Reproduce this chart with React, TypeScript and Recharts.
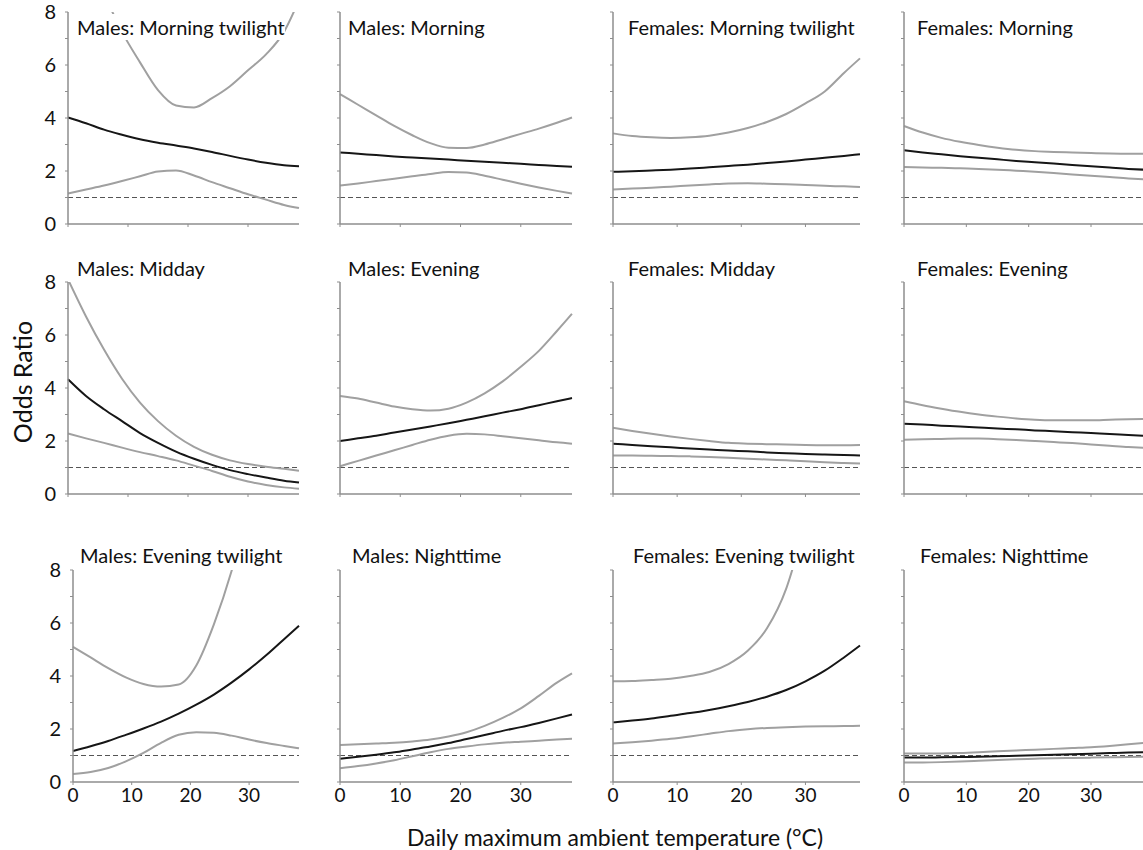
import React from 'react';
import { LineChart, Line, XAxis, YAxis, ReferenceLine } from 'recharts';

// shared x values (daily max temperature, °C) and axis ticks
const temps = [0, 3, 6, 9, 12, 15, 18, 21, 24, 27, 30, 33, 36, 38.5];
const xTicks = [0, 10, 20, 30];
const yTicks = [0, 1, 2, 3, 4, 5, 6, 7, 8];

// Males: Morning twilight
const mMornTwiEst = [4.02, 3.8, 3.56, 3.37, 3.2, 3.07, 2.96, 2.85, 2.72, 2.57, 2.43, 2.31, 2.22, 2.18];
const mMornTwiUpp = [null, null, 8.7, 7.25, 6.1, 5.05, 4.47, 4.4, 4.75, 5.2, 5.8, 6.4, 7.25, 8.45];
const mMornTwiLow = [1.15, 1.3, 1.45, 1.62, 1.8, 1.98, 2.02, 1.83, 1.58, 1.35, 1.12, 0.92, 0.72, 0.6];
// Males: Morning
const mMornEst = [2.7, 2.65, 2.6, 2.55, 2.51, 2.47, 2.43, 2.39, 2.35, 2.31, 2.27, 2.23, 2.19, 2.16];
const mMornUpp = [4.9, 4.5, 4.1, 3.7, 3.35, 3.05, 2.88, 2.87, 3.0, 3.2, 3.4, 3.6, 3.82, 4.02];
const mMornLow = [1.45, 1.53, 1.62, 1.71, 1.8, 1.89, 1.96, 1.94, 1.82, 1.67, 1.52, 1.38, 1.25, 1.15];
// Females: Morning twilight
const fMornTwiEst = [1.97, 1.99, 2.02, 2.05, 2.09, 2.14, 2.19, 2.24, 2.3, 2.36, 2.43, 2.5, 2.57, 2.63];
const fMornTwiUpp = [3.42, 3.32, 3.27, 3.25, 3.27, 3.33, 3.45, 3.62, 3.85, 4.15, 4.55, 5.0, 5.7, 6.25];
const fMornTwiLow = [1.3, 1.34, 1.37, 1.41, 1.45, 1.49, 1.53, 1.54, 1.52, 1.5, 1.47, 1.44, 1.42, 1.4];
// Females: Morning
const fMornEst = [2.78, 2.7, 2.63, 2.56, 2.5, 2.44, 2.38, 2.33, 2.28, 2.23, 2.18, 2.13, 2.08, 2.05];
const fMornUpp = [3.7, 3.45, 3.25, 3.1, 2.98, 2.88, 2.8, 2.75, 2.72, 2.7, 2.68, 2.66, 2.65, 2.65];
const fMornLow = [2.15, 2.13, 2.12, 2.1, 2.08, 2.05, 2.01, 1.97, 1.92, 1.87, 1.82, 1.77, 1.72, 1.69];
// Males: Midday
const mMidEst = [4.33, 3.7, 3.2, 2.75, 2.3, 1.93, 1.6, 1.33, 1.1, 0.9, 0.75, 0.62, 0.5, 0.43];
const mMidUpp = [8.1, 6.7, 5.45, 4.35, 3.45, 2.75, 2.2, 1.78, 1.48, 1.27, 1.13, 1.03, 0.95, 0.88];
const mMidLow = [2.28, 2.1, 1.93, 1.75, 1.58, 1.43, 1.27, 1.07, 0.87, 0.65, 0.47, 0.34, 0.25, 0.2];
// Males: Evening
const mEveEst = [2.0, 2.1, 2.2, 2.32, 2.43, 2.55, 2.67, 2.8, 2.93, 3.07, 3.2, 3.35, 3.5, 3.62];
const mEveUpp = [3.7, 3.6, 3.45, 3.3, 3.2, 3.15, 3.22, 3.45, 3.8, 4.25, 4.8, 5.4, 6.15, 6.8];
const mEveLow = [1.05, 1.25, 1.45, 1.65, 1.85, 2.05, 2.2, 2.27, 2.25, 2.18, 2.1, 2.03, 1.95, 1.9];
// Females: Midday
const fMidEst = [1.9, 1.85, 1.8, 1.76, 1.72, 1.68, 1.64, 1.61, 1.57, 1.54, 1.51, 1.49, 1.47, 1.45];
const fMidUpp = [2.5, 2.38, 2.27, 2.17, 2.08, 2.0, 1.93, 1.9, 1.88, 1.87, 1.85, 1.84, 1.84, 1.85];
const fMidLow = [1.45, 1.45, 1.44, 1.43, 1.42, 1.4, 1.37, 1.33, 1.3, 1.27, 1.24, 1.2, 1.17, 1.15];
// Females: Evening
const fEveEst = [2.65, 2.62, 2.58, 2.55, 2.51, 2.47, 2.44, 2.4, 2.37, 2.33, 2.3, 2.26, 2.23, 2.2];
const fEveUpp = [3.5, 3.35, 3.22, 3.1, 3.0, 2.92, 2.85, 2.8, 2.78, 2.78, 2.78, 2.8, 2.82, 2.83];
const fEveLow = [2.05, 2.07, 2.08, 2.09, 2.09, 2.07, 2.04, 2.0, 1.96, 1.92, 1.87, 1.82, 1.77, 1.74];
// Males: Evening twilight
const mEveTwiEst = [1.17, 1.35, 1.55, 1.78, 2.02, 2.28, 2.58, 2.92, 3.3, 3.75, 4.25, 4.8, 5.4, 5.9];
const mEveTwiUpp = [5.1, 4.7, 4.3, 3.95, 3.7, 3.6, 3.68, 4.4, 5.95, 7.95, 10.5, null, null, null];
const mEveTwiLow = [0.3, 0.38, 0.53, 0.78, 1.1, 1.48, 1.78, 1.88, 1.86, 1.75, 1.6, 1.47, 1.36, 1.27];
// Males: Nighttime
const mNightEst = [0.88, 0.95, 1.03, 1.12, 1.23, 1.34, 1.47, 1.62, 1.77, 1.93, 2.07, 2.23, 2.4, 2.55];
const mNightUpp = [1.4, 1.42, 1.45, 1.48, 1.53, 1.6, 1.72, 1.88, 2.12, 2.42, 2.78, 3.25, 3.75, 4.1];
const mNightLow = [0.52, 0.6, 0.7, 0.82, 0.97, 1.12, 1.25, 1.34, 1.42, 1.48, 1.52, 1.56, 1.6, 1.63];
// Females: Evening twilight
const fEveTwiEst = [2.25, 2.32, 2.4, 2.5, 2.6, 2.72, 2.86, 3.02, 3.22, 3.47, 3.8, 4.2, 4.7, 5.15];
const fEveTwiUpp = [3.8, 3.81, 3.85, 3.9, 4.0, 4.15, 4.45, 4.95, 5.8, 7.3, 9.8, null, null, null];
const fEveTwiLow = [1.45, 1.5, 1.56, 1.63, 1.72, 1.82, 1.92, 1.99, 2.04, 2.07, 2.09, 2.1, 2.11, 2.12];
// Females: Nighttime
const fNightEst = [0.92, 0.92, 0.93, 0.94, 0.95, 0.97, 0.99, 1.01, 1.03, 1.05, 1.07, 1.09, 1.11, 1.12];
const fNightUpp = [1.08, 1.08, 1.08, 1.09, 1.12, 1.16, 1.19, 1.22, 1.25, 1.28, 1.31, 1.36, 1.42, 1.48];
const fNightLow = [0.74, 0.74, 0.75, 0.77, 0.8, 0.83, 0.86, 0.88, 0.9, 0.91, 0.92, 0.93, 0.94, 0.95];

const panelTitles = [
  'Males: Morning twilight', 'Males: Morning', 'Females: Morning twilight', 'Females: Morning',
  'Males: Midday', 'Males: Evening', 'Females: Midday', 'Females: Evening',
  'Males: Evening twilight', 'Males: Nighttime', 'Females: Evening twilight', 'Females: Nighttime',
];
const panelSeries = [
  [mMornTwiEst, mMornTwiUpp, mMornTwiLow], [mMornEst, mMornUpp, mMornLow],
  [fMornTwiEst, fMornTwiUpp, fMornTwiLow], [fMornEst, fMornUpp, fMornLow],
  [mMidEst, mMidUpp, mMidLow], [mEveEst, mEveUpp, mEveLow],
  [fMidEst, fMidUpp, fMidLow], [fEveEst, fEveUpp, fEveLow],
  [mEveTwiEst, mEveTwiUpp, mEveTwiLow], [mNightEst, mNightUpp, mNightLow],
  [fEveTwiEst, fEveTwiUpp, fEveTwiLow], [fNightEst, fNightUpp, fNightLow],
];

// layout (pixels)
const colX = [68, 340, 613, 904];
const colW = [231, 232, 247, 240];
const rowTop = [12, 282, 570];
const PLOT_H = 212;
const Y_W = 44;
const TOP_PAD = 12;
const titleX = [
  [77, 348, 628, 917],
  [77, 348, 628, 917],
  [80, 352, 633, 920],
];
const titleY = [27, 268, 555];

const AXIS = '#8e8e8e';
const CI = '#a0a0a0';
const EST = '#161616';
const FONT = 'Lato, "Open Sans", sans-serif';

function Panel({ idx }: { idx: number }) {
  const row = Math.floor(idx / 4);
  const col = idx % 4;
  const [est, upp, low] = panelSeries[idx];
  const data = temps.map((t, i) => ({ t, est: est[i], upp: upp[i], low: low[i] }));
  const bottom = row === 2;
  const xh = bottom ? 34 : 14;
  const shift = row === 2 && col === 0 ? 5 : 0;
  const w = Y_W + colW[col] - shift + 4;
  const h = TOP_PAD + PLOT_H + xh;
  return (
    <div style={{ position: 'absolute', left: colX[col] + shift - Y_W, top: rowTop[row] - TOP_PAD }}>
      <LineChart width={w} height={h} data={data} margin={{ top: TOP_PAD, right: 4, bottom: 0, left: 0 }}>
        <XAxis
          dataKey="t"
          type="number"
          domain={[0, 38.5]}
          ticks={xTicks}
          interval={0}
          height={xh}
          axisLine={{ stroke: AXIS, strokeWidth: 1.5 }}
          tickLine={{ stroke: AXIS }}
          tickSize={3}
          tickMargin={4}
          tick={{ fill: '#111', fontSize: 19, fontFamily: FONT }}
          tickFormatter={(v: number) => (bottom ? String(v) : '')}
        />
        <YAxis
          type="number"
          domain={[0, 8]}
          allowDataOverflow
          ticks={yTicks}
          interval={0}
          width={Y_W}
          axisLine={{ stroke: AXIS, strokeWidth: 1.5 }}
          tickLine={{ stroke: AXIS }}
          tickSize={3}
          tickMargin={9}
          tick={{ fill: '#111', fontSize: 20, fontFamily: FONT }}
          tickFormatter={(v: number) => (col === 0 && v % 2 === 0 ? String(v) : '')}
        />
        <ReferenceLine y={1} stroke="#555" strokeDasharray="5 3" strokeWidth={1.2} />
        <Line type="monotone" dataKey="upp" stroke={CI} strokeWidth={2} dot={false} isAnimationActive={false} />
        <Line type="monotone" dataKey="low" stroke={CI} strokeWidth={2} dot={false} isAnimationActive={false} />
        <Line type="monotone" dataKey="est" stroke={EST} strokeWidth={2} dot={false} isAnimationActive={false} />
      </LineChart>
    </div>
  );
}

export default function App() {
  return (
    <div
      style={{
        position: 'absolute',
        left: 0,
        top: 0,
        width: 1143,
        height: 850,
        overflow: 'hidden',
        background: '#fff',
        fontFamily: FONT,
        color: '#111',
      }}
    >
      {panelTitles.map((_, i) => (
        <Panel key={i} idx={i} />
      ))}
      {panelTitles.map((title, i) => {
        const row = Math.floor(i / 4);
        const col = i % 4;
        return (
          <div
            key={`t-${i}`}
            style={{
              position: 'absolute',
              left: titleX[row][col],
              top: titleY[row] - 13,
              height: 26,
              lineHeight: '26px',
              fontSize: 20,
              background: '#fff',
              whiteSpace: 'nowrap',
            }}
          >
            {title}
          </div>
        );
      })}
      <div
        style={{
          position: 'absolute',
          left: 22 - 80,
          top: 382 - 16,
          width: 160,
          height: 32,
          lineHeight: '32px',
          textAlign: 'center',
          fontSize: 25,
          transform: 'rotate(-90deg)',
        }}
      >
        Odds Ratio
      </div>
      <div
        style={{
          position: 'absolute',
          left: 615 - 300,
          top: 837 - 14,
          width: 600,
          height: 28,
          lineHeight: '28px',
          textAlign: 'center',
          fontSize: 23,
        }}
      >
        Daily maximum ambient temperature (°C)
      </div>
    </div>
  );
}
